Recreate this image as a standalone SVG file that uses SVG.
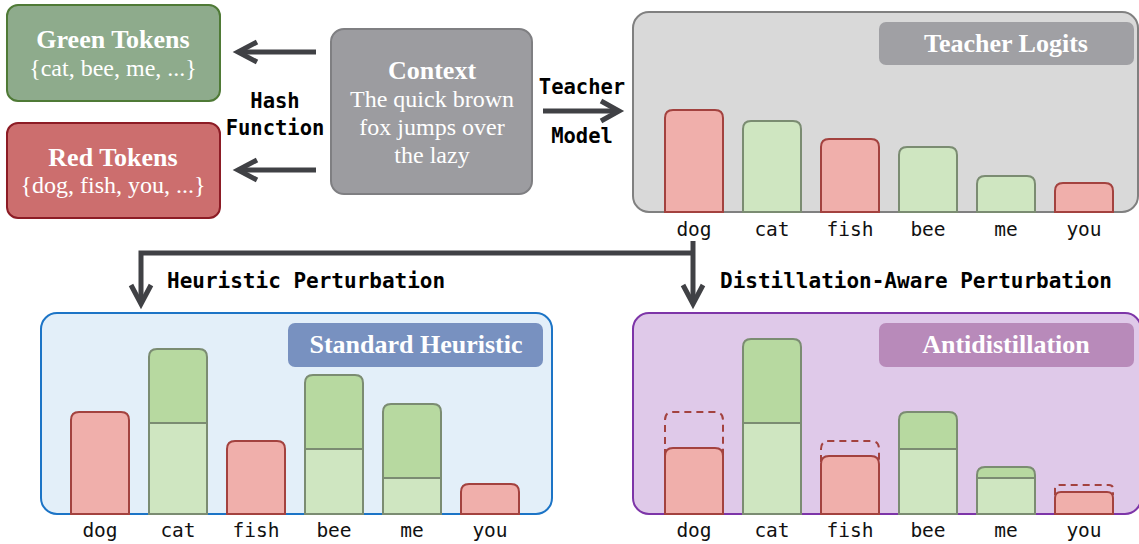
<svg xmlns="http://www.w3.org/2000/svg" width="1139" height="544" viewBox="0 0 1139 544">
<style>
.title{font-family:"Liberation Serif","Times New Roman",serif;font-weight:bold;font-size:26px;fill:#ffffff;text-anchor:middle}
.body{font-family:"Liberation Serif","Times New Roman",serif;font-size:24px;fill:#ffffff;text-anchor:middle}
.mono{font-family:"DejaVu Sans Mono","Liberation Mono",monospace;font-weight:bold;font-size:20.5px;fill:#000000;text-anchor:middle}
.mono21{font-family:"DejaVu Sans Mono","Liberation Mono",monospace;font-weight:bold;font-size:21px;fill:#000000}
.lbl{font-family:"DejaVu Sans Mono","Liberation Mono",monospace;font-size:19.5px;fill:#111111;text-anchor:middle}
.red{fill:#f0afab;stroke:#a3423f;stroke-width:2}
.grn{fill:#cfe6c1;stroke:#7b8c72;stroke-width:2}
.dgrn{fill:#b7d9a0;stroke:#7b8c72;stroke-width:2}
.dash{fill:none;stroke:#a3423f;stroke-width:2;stroke-dasharray:7,5}
.conn{fill:none;stroke:#404145;stroke-width:5}
</style>

<g id="connectors">
<path class="conn" d="M316,52 H240"/>
<path class="conn" d="M257,42 L238,52 L257,62"/>
<path class="conn" d="M316,170 H240"/>
<path class="conn" d="M257,160 L238,170 L257,180"/>
<path class="conn" d="M543,111 H617"/>
<path class="conn" d="M601,101 L619,111 L601,121"/>
<path class="conn" d="M693,241 V303"/>
<path class="conn" d="M693,253 H141 V303"/>
<path class="conn" d="M131,285 L141,304 L151,285"/>
<path class="conn" d="M683,285 L693,304 L703,285"/>
<text class="mono" x="275" y="108">Hash</text>
<text class="mono" x="275" y="135">Function</text>
<text class="mono" x="582" y="94">Teacher</text>
<text class="mono" x="582" y="143">Model</text>
<text class="mono21" x="167" y="288">Heuristic Perturbation</text>
<text class="mono21" x="720" y="288">Distillation-Aware Perturbation</text>
</g>

<g id="green-tokens">
<rect x="7" y="5" width="213" height="96" rx="11" fill="#8eab8c" stroke="#4f7a36" stroke-width="2"/>
<text class="title" x="113" y="48">Green Tokens</text>
<text class="body" x="113" y="76">{cat, bee, me, ...}</text>
</g>

<g id="red-tokens">
<rect x="7" y="123" width="213" height="95" rx="11" fill="#cc6e6e" stroke="#8c1c25" stroke-width="2"/>
<text class="title" x="113" y="166">Red Tokens</text>
<text class="body" x="113" y="193">{dog, fish, you, ...}</text>
</g>

<g id="context">
<rect x="331" y="29" width="201" height="165" rx="13" fill="#9c9ca0" stroke="#7f7f82" stroke-width="2"/>
<text class="title" x="432" y="79">Context</text>
<text class="body" x="432" y="107">The quick brown</text>
<text class="body" x="432" y="135">fox jumps over</text>
<text class="body" x="432" y="163">the lazy</text>
</g>

<g id="teacher-logits">
<rect x="633" y="12" width="505" height="200" rx="16" fill="#d9d9d9" stroke="#808080" stroke-width="2"/>
<rect x="879" y="22" width="255" height="43" rx="7" fill="#a0a0a4"/>
<text class="title" x="1006" y="52">Teacher Logits</text>
<path class="red" d="M665,212 V118 Q665,110 673,110 H715 Q723,110 723,118 V212 Z"/>
<path class="grn" d="M743,212 V129 Q743,121 751,121 H793 Q801,121 801,129 V212 Z"/>
<path class="red" d="M821,212 V147 Q821,139 829,139 H871 Q879,139 879,147 V212 Z"/>
<path class="grn" d="M899,212 V155 Q899,147 907,147 H949 Q957,147 957,155 V212 Z"/>
<path class="grn" d="M977,212 V184 Q977,176 985,176 H1027 Q1035,176 1035,184 V212 Z"/>
<path class="red" d="M1055,212 V191 Q1055,183 1063,183 H1105 Q1113,183 1113,191 V212 Z"/>
<text class="lbl" x="694" y="236">dog</text>
<text class="lbl" x="772" y="236">cat</text>
<text class="lbl" x="850" y="236">fish</text>
<text class="lbl" x="928" y="236">bee</text>
<text class="lbl" x="1006" y="236">me</text>
<text class="lbl" x="1084" y="236">you</text>
</g>

<g id="standard-heuristic">
<rect x="41" y="313" width="511" height="201" rx="16" fill="#e3eff9" stroke="#1c74c6" stroke-width="2"/>
<rect x="288" y="323" width="255" height="44" rx="7" fill="#7891c0"/>
<text class="title" x="416" y="353">Standard Heuristic</text>
<path class="red" d="M71,514 V420 Q71,412 79,412 H121 Q129,412 129,420 V514 Z"/>
<path class="dgrn" d="M149,514 V357 Q149,349 157,349 H199 Q207,349 207,357 V514 Z"/>
<rect class="grn" x="149" y="423" width="58" height="91"/>
<path class="red" d="M227,514 V449 Q227,441 235,441 H277 Q285,441 285,449 V514 Z"/>
<path class="dgrn" d="M305,514 V383 Q305,375 313,375 H355 Q363,375 363,383 V514 Z"/>
<rect class="grn" x="305" y="449" width="58" height="65"/>
<path class="dgrn" d="M383,514 V412 Q383,404 391,404 H433 Q441,404 441,412 V514 Z"/>
<rect class="grn" x="383" y="478" width="58" height="36"/>
<path class="red" d="M461,514 V492 Q461,484 469,484 H511 Q519,484 519,492 V514 Z"/>
<text class="lbl" x="100" y="537">dog</text>
<text class="lbl" x="178" y="537">cat</text>
<text class="lbl" x="256" y="537">fish</text>
<text class="lbl" x="334" y="537">bee</text>
<text class="lbl" x="412" y="537">me</text>
<text class="lbl" x="490" y="537">you</text>
</g>

<g id="antidistillation">
<rect x="633" y="313" width="508" height="201" rx="16" fill="#dfc9e9" stroke="#7d35a8" stroke-width="2"/>
<rect x="879" y="323" width="255" height="44" rx="7" fill="#b88aba"/>
<text class="title" x="1006" y="353">Antidistillation</text>
<path class="dash" d="M665,456 V420 Q665,412 673,412 H715 Q723,412 723,420 V456"/>
<path class="red" d="M665,514 V456 Q665,448 673,448 H715 Q723,448 723,456 V514 Z"/>
<path class="dgrn" d="M743,514 V347 Q743,339 751,339 H793 Q801,339 801,347 V514 Z"/>
<rect class="grn" x="743" y="423" width="58" height="91"/>
<path class="dash" d="M821,462 V449 Q821,441 829,441 H871 Q879,441 879,449 V462"/>
<path class="red" d="M821,514 V464 Q821,456 829,456 H871 Q879,456 879,464 V514 Z"/>
<path class="dgrn" d="M899,514 V420 Q899,412 907,412 H949 Q957,412 957,420 V514 Z"/>
<rect class="grn" x="899" y="449" width="58" height="65"/>
<path class="dgrn" d="M977,514 V475 Q977,467 985,467 H1027 Q1035,467 1035,475 V514 Z"/>
<rect class="grn" x="977" y="478" width="58" height="36"/>
<path class="dash" d="M1055,495 V489 Q1055,485 1059,485 H1109 Q1113,485 1113,489 V495"/>
<path class="red" d="M1055,514 V498 Q1055,492 1061,492 H1107 Q1113,492 1113,498 V514 Z"/>
<text class="lbl" x="694" y="537">dog</text>
<text class="lbl" x="772" y="537">cat</text>
<text class="lbl" x="850" y="537">fish</text>
<text class="lbl" x="928" y="537">bee</text>
<text class="lbl" x="1006" y="537">me</text>
<text class="lbl" x="1084" y="537">you</text>
</g>
</svg>
